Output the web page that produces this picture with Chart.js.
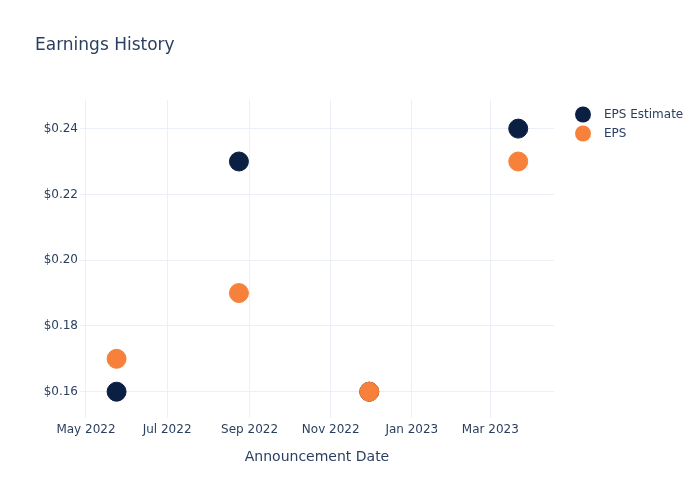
<!DOCTYPE html>
<html>
<head>
<meta charset="utf-8">
<script src="https://cdn.jsdelivr.net/npm/chart.js@4"></script>
<style>
  body { margin: 0; background: #fff; }
  #wrap { width: 700px; height: 500px; }
</style>
</head>
<body>
<div id="wrap"><canvas id="myChart"></canvas></div>
<script>
// data
var dates = ["2022-05-24", "2022-08-24", "2022-11-30", "2023-03-22"];
var epsEstimate = [0.16, 0.23, 0.16, 0.24];
var eps = [0.17, 0.19, 0.16, 0.23];
var xTickDates = ["2022-05-01", "2022-07-01", "2022-09-01", "2022-11-01", "2023-01-01", "2023-03-01"];
var xTickLabels = ["May 2022", "Jul 2022", "Sep 2022", "Nov 2022", "Jan 2023", "Mar 2023"];
var yTicks = [0.16, 0.18, 0.20, 0.22, 0.24];

var textColor = "#2a3f5f";
var gridColor = "#ebf0f8";
var navy = "#0b1f43";
var orange = "#f7813a";
var DAY = 864e5;

function toMs(s) {
  var p = s.split("-");
  return Date.UTC(+p[0], +p[1] - 1, +p[2]);
}

function points(vals) {
  return dates.map(function (d, i) { return { x: toMs(d), y: vals[i] }; });
}

// legend drawn plotly style, off to the right
var sideLegend = {
  id: "sideLegend",
  afterDraw: function (chart) {
    var ctx = chart.ctx;
    var sets = chart.data.datasets;
    ctx.save();
    ctx.font = "12px 'DejaVu Sans'";
    ctx.textBaseline = "middle";
    for (var i = 0; i < sets.length; i++) {
      var y = 114.5 + i * 19;
      ctx.beginPath();
      ctx.arc(583, y, 8, 0, Math.PI * 2);
      ctx.fillStyle = sets[i].backgroundColor;
      ctx.fill();
      ctx.fillStyle = textColor;
      ctx.fillText(sets[i].label, 604, y);
    }
    ctx.restore();
  }
};

new Chart("myChart", {
  type: "scatter",
  data: {
    datasets: [{
      label: "EPS Estimate",
      data: points(epsEstimate),
      backgroundColor: navy,
      borderColor: navy,
      pointRadius: 9.5,
      borderWidth: 1,
      order: 1
    }, {
      label: "EPS",
      data: points(eps),
      backgroundColor: orange,
      borderColor: orange,
      pointRadius: 9.5,
      borderWidth: 1,
      order: 0
    }]
  },
  options: {
    responsive: true,
    maintainAspectRatio: false,
    animation: false,
    layout: { padding: { left: 35, right: 146, top: 0, bottom: 0 } },
    plugins: {
      legend: { display: false },
      tooltip: { enabled: false },
      title: {
        display: true,
        text: "Earnings History",
        align: "start",
        color: textColor,
        font: { family: "'DejaVu Sans'", size: 17, weight: "normal" },
        padding: { top: 35, bottom: 44.6 }
      }
    },
    scales: {
      x: {
        type: "linear",
        min: toMs("2022-05-01") - 4.5 * DAY,
        max: toMs("2022-05-01") + 351.9 * DAY,
        afterBuildTicks: function (scale) {
          scale.ticks = xTickDates.map(function (d) { return { value: toMs(d) }; });
        },
        afterFit: function (scale) { scale.height = 82; },
        ticks: {
          color: textColor,
          font: { family: "'DejaVu Sans'", size: 12 },
          padding: 5,
          maxRotation: 0,
          autoSkip: false,
          callback: function (v, i) { return xTickLabels[i]; }
        },
        grid: { color: gridColor, drawTicks: false },
        border: { display: false },
        title: {
          display: true,
          text: "Announcement Date",
          color: textColor,
          font: { family: "'DejaVu Sans'", size: 14 },
          padding: { top: 0, bottom: 34.6 }
        }
      },
      y: {
        min: 0.1520,
        max: 0.2487,
        afterBuildTicks: function (scale) {
          scale.ticks = yTicks.map(function (v) { return { value: v }; });
        },
        afterFit: function (scale) { scale.width = 45; },
        ticks: {
          color: textColor,
          font: { family: "'DejaVu Sans'", size: 12 },
          padding: 2,
          callback: function (v) { return "$" + v.toFixed(2); }
        },
        grid: { color: gridColor, drawTicks: false },
        border: { display: false }
      }
    }
  },
  plugins: [sideLegend]
});
</script>
</body>
</html>
